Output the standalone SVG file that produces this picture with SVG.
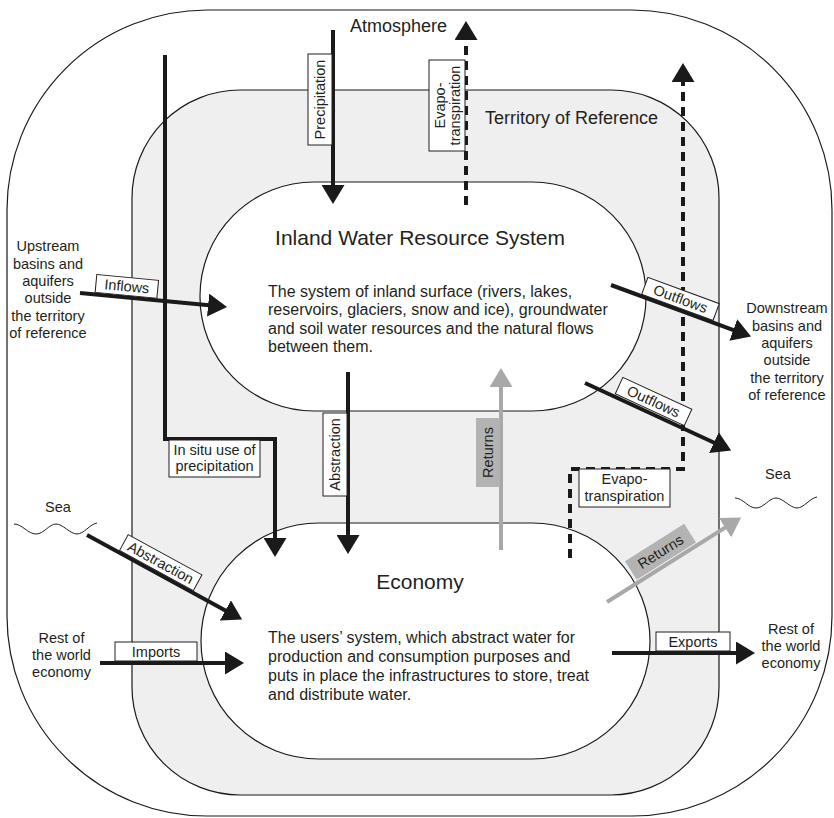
<svg xmlns="http://www.w3.org/2000/svg" width="834" height="818" viewBox="0 0 834 818">
  <defs>
    <marker id="head" markerUnits="userSpaceOnUse" viewBox="0 0 19 23" markerWidth="19" markerHeight="23" refX="1" refY="11.5" orient="auto">
      <path d="M0,0 L19,11.5 L0,23 z" fill="#1a1a1a"/>
    </marker>
    <marker id="head-grey" markerUnits="userSpaceOnUse" viewBox="0 0 19 23" markerWidth="19" markerHeight="23" refX="1" refY="11.5" orient="auto">
      <path d="M0,0 L19,11.5 L0,23 z" fill="#a8a8a8"/>
    </marker>
    <style>
      text { font-family: "Liberation Sans", Arial, Helvetica, sans-serif; fill: #231f20; }
      .region { stroke: #1a1a1a; stroke-width: 1.2; }
      .title { font-size: 21px; text-anchor: middle; }
      .area { font-size: 18px; }
      .body { font-size: 16px; }
      .side { font-size: 14.5px; text-anchor: middle; }
      .lbl { font-size: 14.5px; text-anchor: middle; }
      .flow { fill: none; stroke: #1a1a1a; stroke-width: 4; marker-end: url(#head); }
      .dash { stroke-dasharray: 9 6; }
      .grey { fill: none; stroke: #a8a8a8; stroke-width: 4; marker-end: url(#head-grey); }
      .box { fill: #ffffff; stroke: #231f20; stroke-width: 1; }
      .gbox { fill: #b3b3b3; stroke: none; }
      .wave { fill: none; stroke: #231f20; stroke-width: 1; }
    </style>
  </defs>

  <!-- Atmosphere: outer space around everything -->
  <g id="atmosphere">
    <rect class="region" x="7" y="10" width="825" height="806" rx="200" ry="200" fill="#ffffff"/>
    <text class="area" x="350" y="32">Atmosphere</text>
  </g>

  <!-- Territory of reference -->
  <g id="territory">
    <rect class="region" x="132" y="90" width="587" height="705" rx="108" ry="108" fill="#efefef"/>
    <text class="area" x="485" y="124">Territory of Reference</text>
  </g>

  <!-- Inland water resource system -->
  <g id="inland-water">
    <rect class="region" x="200" y="182" width="446" height="229" rx="114" ry="114" fill="#ffffff"/>
    <text class="title" x="420" y="245">Inland Water Resource System</text>
    <text class="body" x="268" y="297">The system of inland surface (rivers, lakes,</text>
    <text class="body" x="268" y="315.3">reservoirs, glaciers, snow and ice), groundwater</text>
    <text class="body" x="268" y="333.6">and soil water resources and the natural flows</text>
    <text class="body" x="268" y="351.9">between them.</text>
  </g>

  <!-- Economy -->
  <g id="economy">
    <rect class="region" x="201" y="523" width="449" height="236" rx="118" ry="118" fill="#ffffff"/>
    <text class="title" x="420" y="589">Economy</text>
    <text class="body" x="268" y="643">The users’ system, which abstract water for</text>
    <text class="body" x="268" y="662">production and consumption purposes and</text>
    <text class="body" x="268" y="681">puts in place the infrastructures to store, treat</text>
    <text class="body" x="268" y="700">and distribute water.</text>
  </g>

  <!-- Outside areas -->
  <g id="upstream">
    <text class="side" x="48" y="251">Upstream</text>
    <text class="side" x="48" y="268.5">basins and</text>
    <text class="side" x="48" y="286">aquifers</text>
    <text class="side" x="48" y="303">outside</text>
    <text class="side" x="48" y="320.5">the territory</text>
    <text class="side" x="48" y="338">of reference</text>
  </g>
  <g id="downstream">
    <text class="side" x="787" y="313">Downstream</text>
    <text class="side" x="787" y="330.5">basins and</text>
    <text class="side" x="787" y="347.5">aquifers</text>
    <text class="side" x="787" y="365">outside</text>
    <text class="side" x="787" y="382.5">the territory</text>
    <text class="side" x="787" y="400">of reference</text>
  </g>
  <g id="sea-west">
    <text class="side" x="58" y="512">Sea</text>
    <path class="wave" d="M14,524 C22,524 28,534 36,534 S49,524 56,524 S70,534 77,534 S90,524 97,523"/>
  </g>
  <g id="sea-east">
    <text class="side" x="778" y="479">Sea</text>
    <path class="wave" d="M735,498 C743,498 748,508 756,508 S769,498 776,498 S790,508 797,508 S810,498 817,497"/>
  </g>
  <g id="rest-of-world-west">
    <text class="side" x="61.5" y="643">Rest of</text>
    <text class="side" x="61.5" y="660">the world</text>
    <text class="side" x="61.5" y="677">economy</text>
  </g>
  <g id="rest-of-world-east">
    <text class="side" x="791" y="634">Rest of</text>
    <text class="side" x="791" y="651">the world</text>
    <text class="side" x="791" y="668">economy</text>
  </g>

  <!-- Flows -->
  <g id="connectors">
    <path id="precipitation" class="flow" d="M333,30 V186"/>
    <path id="evapotranspiration-inland" class="flow dash" d="M466,205 V39"/>
    <path id="evapotranspiration-economy" class="flow dash" d="M570,558 V469 H683 V81"/>
    <path id="in-situ-use" class="flow" d="M165,55 V439 H275 V539"/>
    <path id="abstraction-inland" class="flow" d="M348,372 V536"/>
    <path id="inflows" class="flow" d="M80,293 L209.1,305.2"/>
    <path id="outflows-downstream" class="flow" d="M611,285 L734.2,330.4"/>
    <path id="outflows-sea" class="flow" d="M585,383 L714.8,443"/>
    <path id="returns-inland" class="grey" d="M501,550 V386"/>
    <path id="returns-sea" class="grey" d="M607,602 L725.9,527.1"/>
    <path id="abstraction-sea" class="flow" d="M87,535 L226.3,610.9"/>
    <path id="imports" class="flow" d="M100,663 H226"/>
    <path id="exports" class="flow" d="M612,653 H737"/>
  </g>

  <!-- Flow labels -->
  <g id="flow-labels">
    <rect class="box" x="308" y="54" width="24" height="91"/>
    <text class="lbl" transform="translate(325,99.5) rotate(-90)">Precipitation</text>

    <rect class="box" x="429" y="60" width="36" height="91"/>
    <text class="lbl" transform="translate(445,105.5) rotate(-90)">Evapo-</text>
    <text class="lbl" transform="translate(460,105.5) rotate(-90)">transpiration</text>

    <rect class="box" x="579" y="469" width="91" height="38"/>
    <text class="lbl" x="624.5" y="483.5">Evapo-</text>
    <text class="lbl" x="624.5" y="500.5">transpiration</text>

    <rect class="box" x="169" y="440" width="91" height="37"/>
    <text class="lbl" x="214.5" y="454.5">In situ use of</text>
    <text class="lbl" x="214.5" y="471">precipitation</text>

    <rect class="box" x="323" y="413" width="24" height="83"/>
    <text class="lbl" transform="translate(340,454.5) rotate(-90)">Abstraction</text>

    <rect class="gbox" x="476" y="418" width="24" height="69"/>
    <text class="lbl" transform="translate(493,452.5) rotate(-90)">Returns</text>

    <g transform="translate(80,293) rotate(5.4)">
      <rect class="box" x="15" y="-20" width="62" height="18"/>
      <text class="lbl" x="46" y="-6">Inflows</text>
    </g>
    <g transform="translate(611,285) rotate(20.24)">
      <rect class="box" x="32" y="-20" width="76" height="18"/>
      <text class="lbl" x="70" y="-6">Outflows</text>
    </g>
    <g transform="translate(585,383) rotate(24.82)">
      <rect class="box" x="32" y="-21" width="76" height="18"/>
      <text class="lbl" x="70" y="-7">Outflows</text>
    </g>
    <g transform="translate(607,602) rotate(-32.19)">
      <rect class="gbox" x="37" y="-25" width="70" height="22"/>
      <text class="lbl" x="72" y="-9">Returns</text>
    </g>
    <g transform="translate(87,535) rotate(28.59)">
      <rect class="box" x="36" y="-20" width="84" height="18"/>
      <text class="lbl" x="78" y="-6">Abstraction</text>
    </g>

    <rect class="box" x="115" y="642" width="82" height="19"/>
    <text class="lbl" x="156" y="657">Imports</text>

    <rect class="box" x="656" y="632" width="74" height="19"/>
    <text class="lbl" x="693" y="647">Exports</text>
  </g>
</svg>
